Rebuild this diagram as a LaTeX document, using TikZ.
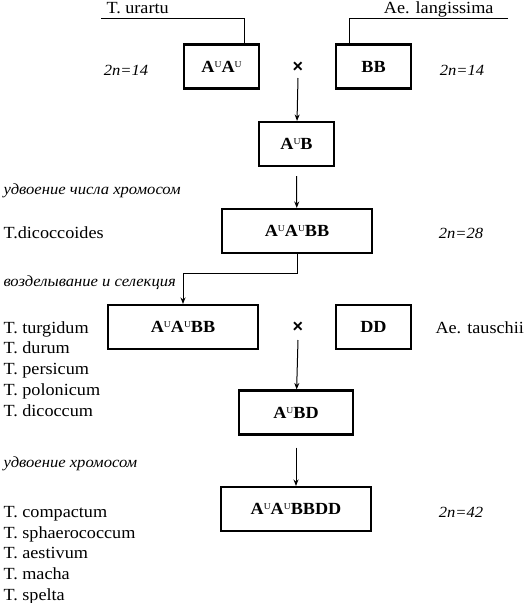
\documentclass[tikz,border=0pt]{standalone}
\usepackage{fontspec}
\setmainfont{Liberation Serif}[FakeStretch=1.07]
\newfontfamily\crossfont{Liberation Sans}
\usetikzlibrary{arrows.meta}

\newcommand{\AU}{A\raisebox{0.6ex}{\fontsize{9}{9}\selectfont\mdseries U}}

\tikzset{
    gbox/.style={draw, line width=2.1pt, inner sep=0pt, minimum height=44pt,
        font=\fontsize{17}{18}\selectfont\bfseries},
    lbl/.style={inner sep=0pt, anchor=base west, font=\fontsize{17}{18}\selectfont},
    chr/.style={inner sep=0pt, anchor=base, font=\fontsize{15.5}{17}\selectfont\itshape},
    note/.style={inner sep=0pt, anchor=base west, font=\fontsize{15.5}{17}\selectfont\itshape},
    cross/.style={inner sep=0pt, font=\crossfont\fontsize{18}{18}\selectfont\bfseries},
}

\begin{document}
\begin{tikzpicture}[x=1pt, y=-1pt, line width=1pt, >={Stealth[length=6.5pt,width=5pt]}]
    \useasboundingbox (0,0) rectangle (525,603);
    % parents
    \path (221.5,66.5) node[gbox, minimum width=75pt] (au) {\AU\AU};
    \path (373.5,66.5) node[gbox, minimum width=75pt] (bb) {BB};
    \path (298,67) node[cross] (x1) {×};
    \coordinate (urleft) at (101,18);
    \coordinate (lgright) at (508,18);
    \draw (urleft) -| ([xshift=22.5pt]au.north);
    \draw (lgright) -| ([xshift=-24.5pt]bb.north);
    \node[lbl] at (106,13) {T. urartu};
    \node[lbl, anchor=base east] at (494,13) {Ae. langissima};
    \node[chr] at (126,75) {2n=14};
    \node[chr] at (462,75) {2n=14};
    % tetraploid
    \path (296.5,144) node[gbox, minimum width=75pt] (aub) {\AU B};
    \path (297,231) node[gbox, minimum width=150pt] (aabb) {\AU\AU BB};
    \draw [->] ([yshift=-11pt]x1.center) -- (aub);
    \draw [->] ([yshift=-9pt]aub.south) -- (aabb);
    \node[note] at (3,194) {удвоение числа хромосом};
    \node[lbl] at (3,238) {T.dicoccoides};
    \node[chr] at (461,238) {2n=28};
    % cultivated
    \path (183,327) node[gbox, minimum width=150pt] (aabb2) {\AU\AU BB};
    \path (373.5,327) node[gbox, minimum width=75pt] (dd) {DD};
    \path (298,327) node[cross] (x2) {×};
    \draw [->] (aabb.south) -- ++(0,19) -| (aabb2.north);
    \node[note] at (3,286) {возделывание и селекция};
    \node[lbl] at (435,333) {Ae. tauschii};
    \foreach \sp [count=\i] in {T. turgidum, T. durum, T. persicum, T. polonicum, T. dicoccum}
        \node[lbl] at (3,{333+20.8*(\i-1)}) {\sp};
    % hexaploid
    \path (296,412.5) node[gbox, minimum width=114pt] (aubd) {\AU BD};
    \path (296,509) node[gbox, minimum width=150pt] (hexa) {\AU\AU BBDD};
    \draw [->] ([yshift=-13pt]x2.center) -- (aubd);
    \draw [->] ([yshift=-12pt]aubd.south) -- (hexa);
    \node[note] at (3,467) {удвоение хромосом};
    \node[chr] at (461,517) {2n=42};
    \foreach \sp [count=\i] in {T. compactum, T. sphaerococcum, T. aestivum, T. macha, T. spelta}
        \node[lbl] at (3,{517.3+20.8*(\i-1)}) {\sp};
\end{tikzpicture}
\end{document}
